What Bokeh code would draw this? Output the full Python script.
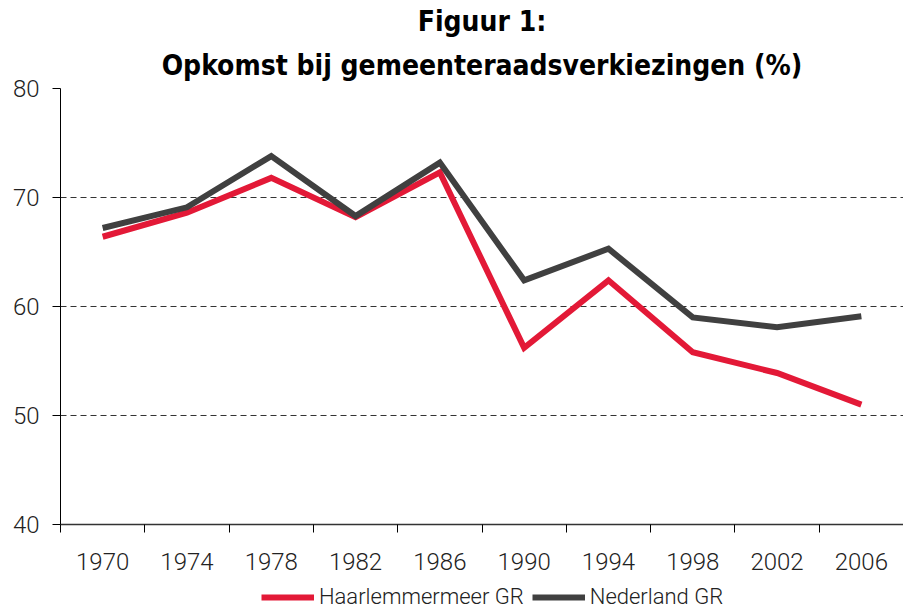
from bokeh.plotting import figure
from bokeh.layouts import column
from bokeh.models import FixedTicker, Range1d, Legend, LegendItem, ColumnDataSource, Title
from bokeh.embed import file_html
from bokeh.resources import INLINE

years = ["1970", "1974", "1978", "1982", "1986", "1990", "1994", "1998", "2002", "2006"]
haarlemmermeer = [66.4, 68.6, 71.8, 68.2, 72.3, 56.2, 62.4, 55.8, 53.9, 51.0]
nederland = [67.2, 69.1, 73.8, 68.3, 73.2, 62.4, 65.3, 59.0, 58.1, 59.1]
y_ticks = [40, 50, 60, 70, 80]
title_lines = ["Figuur 1:", "Opkomst bij gemeenteraadsverkiezingen (%)"]
series_names = ["Haarlemmermeer GR", "Nederland GR"]

RED = "#e31937"
DARK = "#404040"
FONT = "Roboto Light"
TFONT = "DejaVu Sans Condensed"

xs = [i + 0.5 for i in range(len(years))]
src = ColumnDataSource(dict(x=xs, h=haarlemmermeer, n=nederland))

p = figure(width=903, height=580, output_backend="svg", toolbar_location=None,
           x_range=Range1d(0, len(years)), y_range=Range1d(40, 80),
           min_border_left=60, min_border_right=0, min_border_top=10, min_border_bottom=56)
p.outline_line_color = None
p.background_fill_color = "white"
p.title = None

for line, off in ((title_lines[1], 13), (title_lines[0], 5)):
    p.add_layout(Title(text=line, align="center", text_font=TFONT, text_font_size="28px",
                       text_font_style="bold", text_color="black", standoff=off), "above")

r1 = p.line("x", "h", source=src, line_color=RED, line_width=6, line_join="miter")
r2 = p.line("x", "n", source=src, line_color=DARK, line_width=6, line_join="miter")

# axes
p.xaxis.ticker = FixedTicker(ticks=xs, minor_ticks=list(range(len(years) + 1)))
p.xaxis.major_label_overrides = {x: y for x, y in zip(xs, years)}
p.xaxis.major_tick_out = 0
p.xaxis.major_tick_in = 0
p.xaxis.minor_tick_out = 8
p.xaxis.minor_tick_in = 0
p.xaxis.minor_tick_line_color = "black"
p.xaxis.axis_line_color = "#333333"
p.xaxis.axis_line_width = 1.5
p.xaxis.major_label_text_font = FONT
p.xaxis.major_label_text_font_size = "24px"
p.xaxis.major_label_text_color = "#222222"
p.xaxis.major_label_standoff = 20

p.yaxis.ticker = FixedTicker(ticks=y_ticks, minor_ticks=[])
p.yaxis.major_tick_out = 8
p.yaxis.major_tick_in = 0
p.yaxis.axis_line_color = "black"
p.yaxis.major_label_text_font = FONT
p.yaxis.major_label_text_font_size = "24px"
p.yaxis.major_label_text_color = "#222222"
p.yaxis.major_label_standoff = 13

p.xgrid.grid_line_color = None
p.ygrid.ticker = FixedTicker(ticks=y_ticks[1:])
p.ygrid.grid_line_color = "#333333"
p.ygrid.grid_line_dash = "6 4"
p.ygrid.grid_line_width = 1

# legend strip (lines kept out of view; only legend samples show)
lg = figure(width=903, height=29, output_backend="svg", toolbar_location=None,
            x_range=Range1d(0, len(years)), y_range=Range1d(0, 1),
            min_border_left=0, min_border_right=0, min_border_top=0, min_border_bottom=0)
lg.axis.visible = False
lg.grid.visible = False
lg.outline_line_color = None
l1 = lg.line("x", "h", source=src, line_color=RED, line_width=6)
l2 = lg.line("x", "n", source=src, line_color=DARK, line_width=6)
legend = Legend(items=[LegendItem(label=series_names[0], renderers=[l1]),
                       LegendItem(label=series_names[1], renderers=[l2])],
                orientation="horizontal", location=(201, 0),
                border_line_color=None, background_fill_alpha=0,
                label_text_font=FONT, label_text_font_size="22px",
                label_text_color="#222222", glyph_width=53, glyph_height=22,
                spacing=8, label_standoff=5, padding=0, margin=0)
lg.add_layout(legend, "center")

layout = column(p, lg, spacing=0)
open("out.html", "w").write(file_html(layout, INLINE))
